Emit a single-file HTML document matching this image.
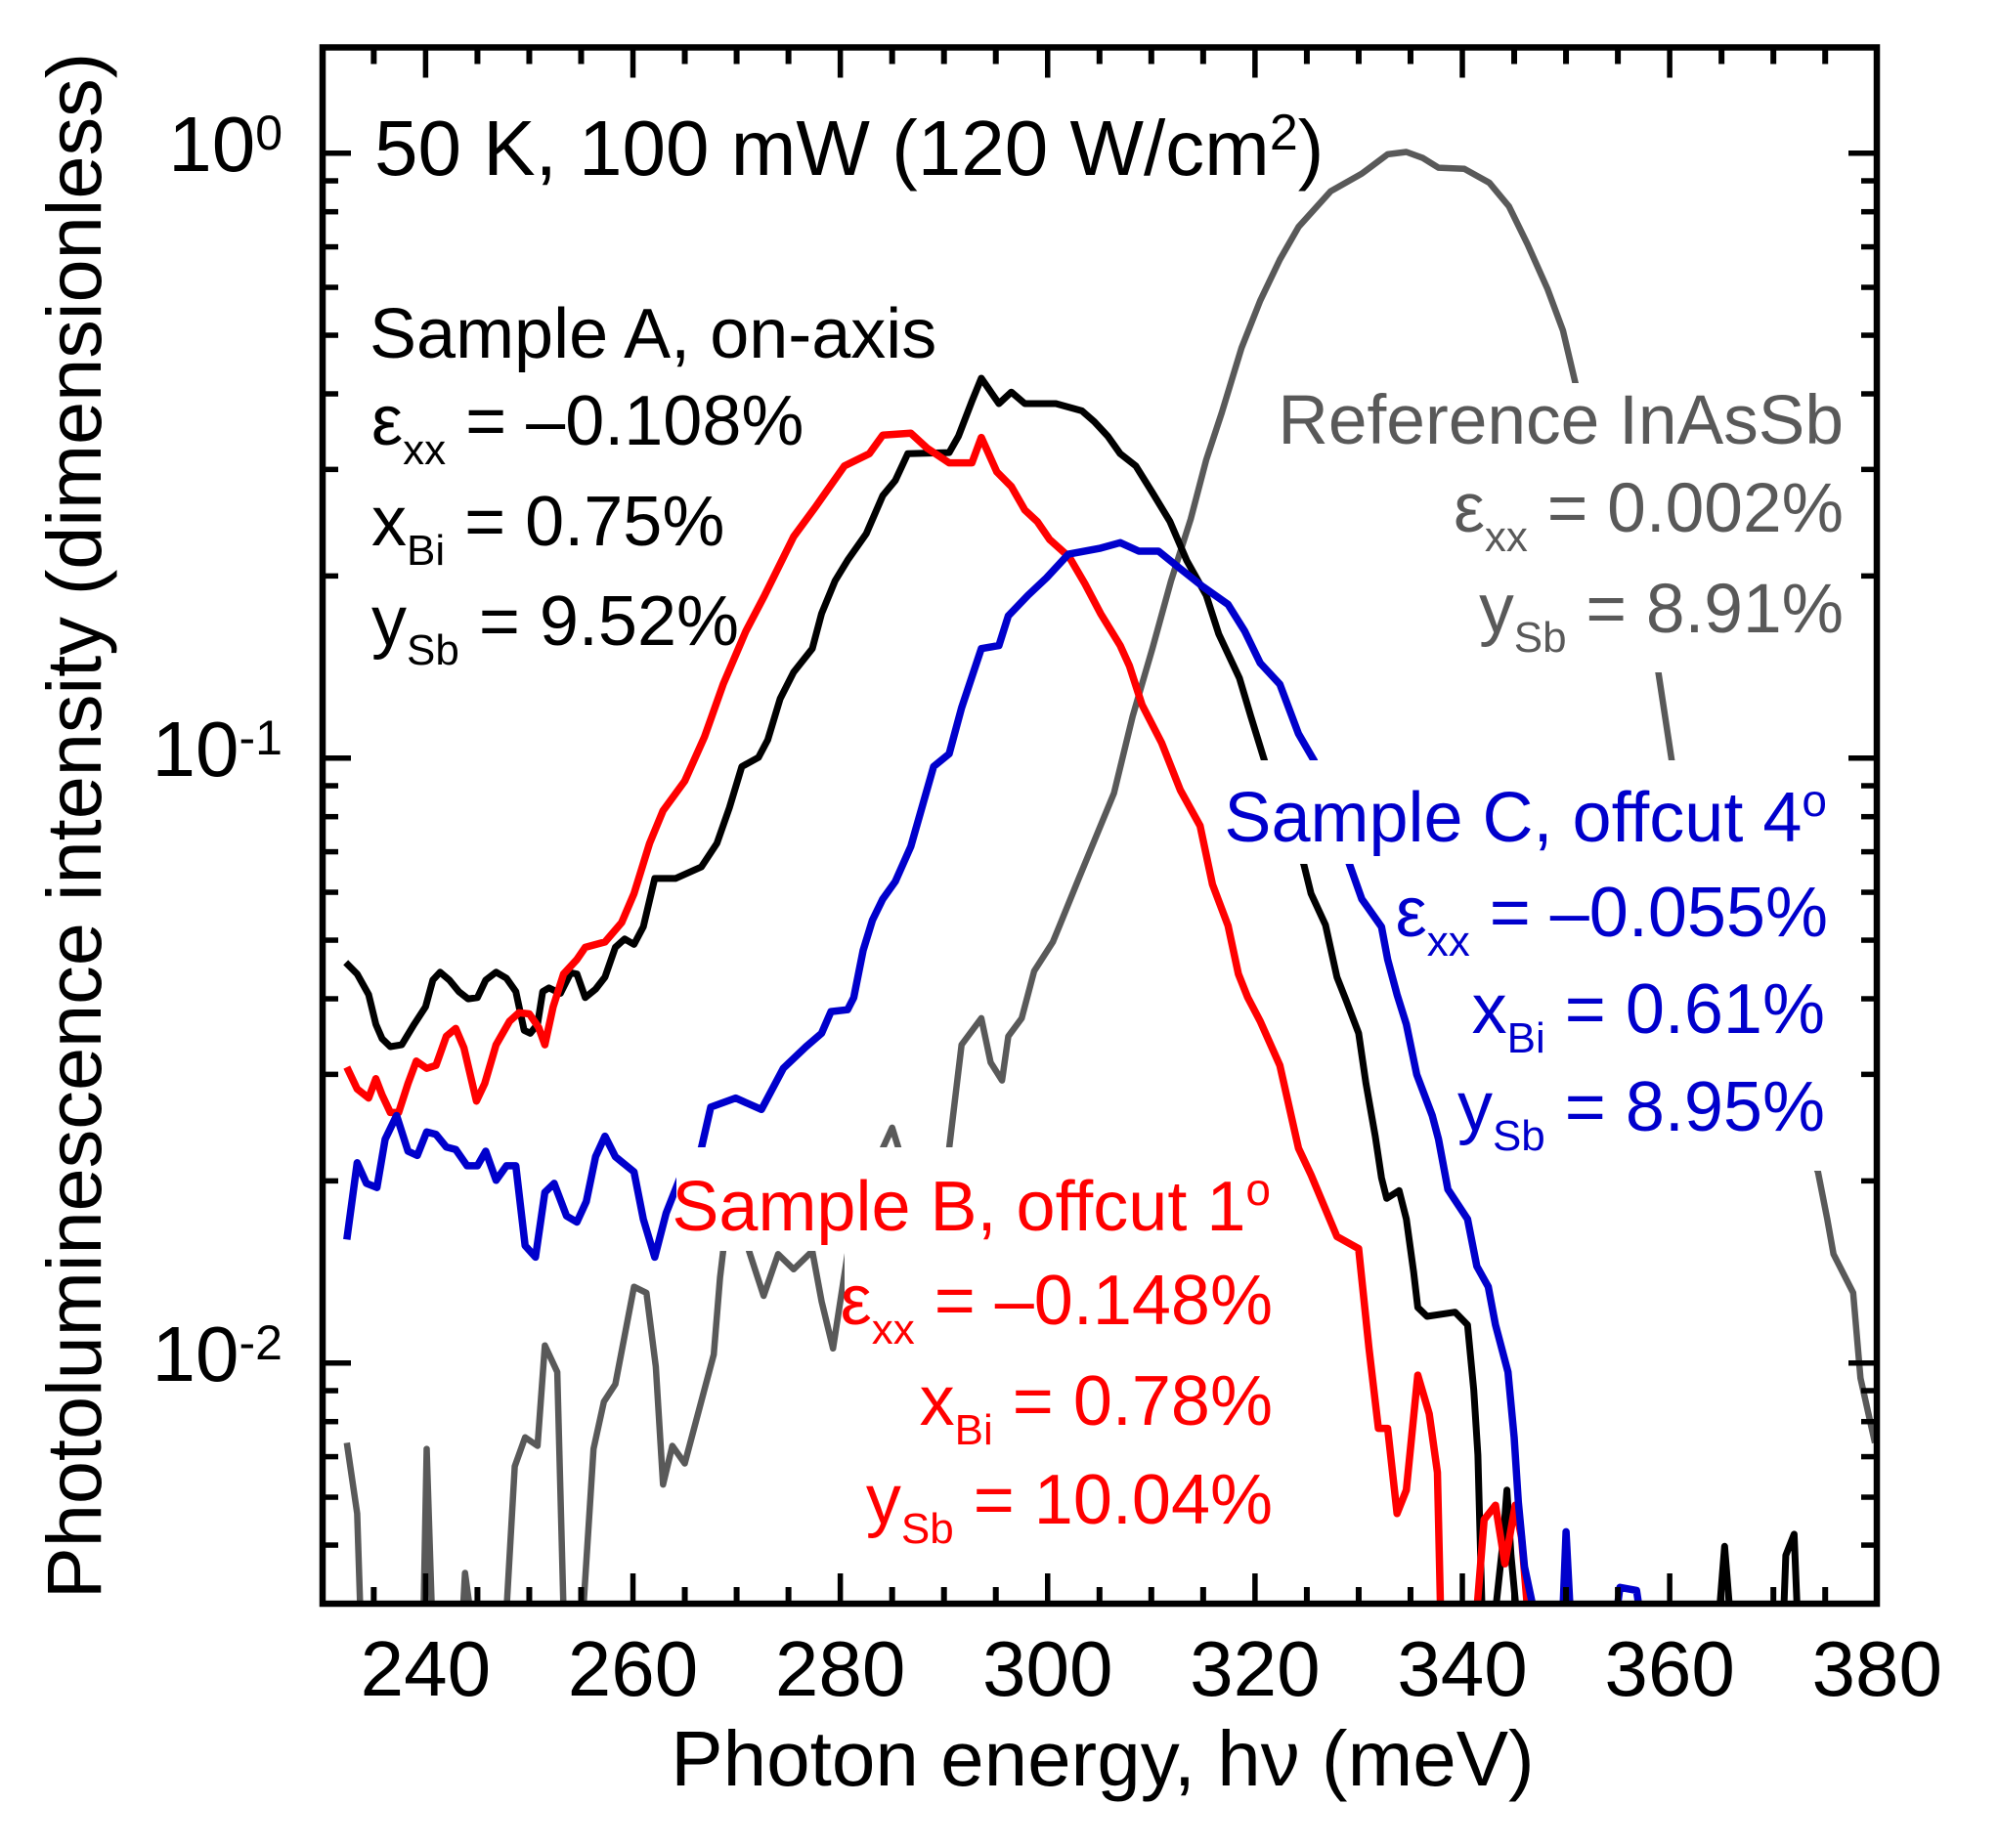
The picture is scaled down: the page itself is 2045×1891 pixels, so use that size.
<!DOCTYPE html>
<html lang="en">
<head>
<meta charset="utf-8">
<title>Photoluminescence spectra</title>
<style>
html,body{margin:0;padding:0;background:#fff;width:2045px;height:1891px;overflow:hidden}
svg{display:block}
text{font-family:"Liberation Sans",sans-serif}
.lbl{font-size:72px}
.lblg{font-size:71.3px}
.red{fill:#ff0000}.blue{fill:#0000cc}.gray{fill:#595959}.blk{fill:#000}
</style>
</head>
<body>
<svg id="chart" xmlns="http://www.w3.org/2000/svg" width="2045" height="1891" viewBox="0 0 2045 1891">
  <defs><clipPath id="plot-clip"><rect x="330" y="48" width="1590" height="1593"/></clipPath></defs>
  <rect x="0" y="0" width="2045" height="1891" fill="#fff"/>
  <g id="series" clip-path="url(#plot-clip)"></g>
  <g fill="#fff">
    <rect x="1305" y="392" width="600" height="296"/>
    <rect x="1252" y="778" width="658" height="106"/>
    <rect x="1490" y="884" width="420" height="314"/>
    <rect x="692" y="1174" width="618" height="106"/>
    <rect x="864" y="1280" width="446" height="356"/>
  </g>
  <g id="axes"></g>
  <rect x="330" y="48.5" width="1590" height="1592.5" fill="none" stroke="#000" stroke-width="6.5"/>

  <text transform="translate(103 845) rotate(-90)" text-anchor="middle" font-size="79.3">Photoluminescence intensity (dimensionless)</text>
  <text x="1128" y="1827" text-anchor="middle" font-size="80">Photon energy, hν (meV)</text>
  <text x="383" y="179" font-size="80">50 K, 100 mW (120 W/cm<tspan font-size="52" dy="-26">2</tspan><tspan dy="26">)</tspan></text>

  <g class="blk">
    <text class="lbl" x="378" y="366">Sample A, on-axis</text>
    <text class="lbl" x="380" y="455">ε<tspan font-size="44" dy="20">xx</tspan><tspan dy="-20"> = –0.108%</tspan></text>
    <text class="lbl" x="380" y="558">x<tspan font-size="44" dy="20">Bi</tspan><tspan dy="-20"> = 0.75%</tspan></text>
    <text class="lbl" x="380" y="660">y<tspan font-size="44" dy="20">Sb</tspan><tspan dy="-20"> = 9.52%</tspan></text>
  </g>
  <g class="gray" text-anchor="end">
    <text class="lblg" x="1886" y="454">Reference InAsSb</text>
    <text class="lblg" x="1886" y="544">ε<tspan font-size="44" dy="20">xx</tspan><tspan dy="-20"> = 0.002%</tspan></text>
    <text class="lblg" x="1886" y="647">y<tspan font-size="44" dy="20">Sb</tspan><tspan dy="-20"> = 8.91%</tspan></text>
  </g>
  <g class="blue" text-anchor="end">
    <text class="lbl" x="1869" y="861">Sample C, offcut 4<tspan font-size="46" dy="-26">o</tspan></text>
    <text class="lbl" x="1870" y="958">ε<tspan font-size="44" dy="20">xx</tspan><tspan dy="-20"> = –0.055%</tspan></text>
    <text class="lbl" x="1867" y="1057">x<tspan font-size="44" dy="20">Bi</tspan><tspan dy="-20"> = 0.61%</tspan></text>
    <text class="lbl" x="1867" y="1157">y<tspan font-size="44" dy="20">Sb</tspan><tspan dy="-20"> = 8.95%</tspan></text>
  </g>
  <g class="red" text-anchor="end">
    <text class="lbl" x="1300" y="1259">Sample B, offcut 1<tspan font-size="46" dy="-26">o</tspan></text>
    <text class="lbl" x="1302" y="1355">ε<tspan font-size="44" dy="20">xx</tspan><tspan dy="-20"> = –0.148%</tspan></text>
    <text class="lbl" x="1302" y="1458">x<tspan font-size="44" dy="20">Bi</tspan><tspan dy="-20"> = 0.78%</tspan></text>
    <text class="lbl" x="1302" y="1559">y<tspan font-size="44" dy="20">Sb</tspan><tspan dy="-20"> = 10.04%</tspan></text>
  </g>
</svg>
<script>
// Axis tick data
const xTickLabels = ["240","260","280","300","320","340","360","380"];
const xMinorTicks = [235,245,250,255,265,270,275,285,290,295,305,310,315,325,330,335,345,350,355,365,370,375];
const yDecades = [0,-1,-2];
const yExponentLabels = ["0","-1","-2"];
const yMinorMultipliers = [2,3,4,5,6,7,8,9];

// Sample A (black): photon energy (meV) and log10 of PL intensity
const sampleAEnergy = [232.3,233.4,234.5,235.2,235.8,236.6,237.7,238.9,240.0,240.7,241.4,242.3,243.2,244.1,245.0,245.8,246.8,247.8,248.7,249.5,250.1,250.8,251.3,251.9,253.0,254.0,254.6,255.4,256.4,257.3,258.3,259.2,260.1,261.0,262.1,264.1,266.6,268.1,269.3,270.5,272.1,273.0,274.2,275.5,277.3,278.2,279.5,280.7,282.5,284.1,285.3,286.5,290.5,291.4,292.7,293.6,295.3,296.5,297.8,300.8,303.3,304.5,305.8,307.0,308.5,310.1,311.8,313.4,315.3,316.5,318.5,319.6,321.0,323.0,324.7,325.4,326.8,327.9,328.8,330.0,330.7,331.6,332.2,332.7,333.9,334.6,335.3,335.7,336.6,339.3,340.5,341.1,341.5,341.7,341.9,343.2,343.9,344.3,344.7,345.2,364.8,365.3,365.8,371.0,371.2,372.0,372.3];
const sampleALogIntensity = [-1.338,-1.357,-1.391,-1.440,-1.464,-1.477,-1.474,-1.440,-1.411,-1.367,-1.354,-1.367,-1.386,-1.398,-1.396,-1.367,-1.354,-1.364,-1.386,-1.450,-1.455,-1.440,-1.386,-1.380,-1.389,-1.355,-1.357,-1.396,-1.382,-1.362,-1.313,-1.299,-1.308,-1.279,-1.199,-1.199,-1.180,-1.141,-1.082,-1.014,-0.999,-0.970,-0.902,-0.858,-0.819,-0.761,-0.707,-0.673,-0.629,-0.566,-0.541,-0.497,-0.495,-0.468,-0.410,-0.372,-0.414,-0.395,-0.414,-0.414,-0.426,-0.444,-0.468,-0.497,-0.517,-0.561,-0.609,-0.673,-0.731,-0.795,-0.868,-0.931,-1.009,-1.110,-1.175,-1.224,-1.276,-1.362,-1.401,-1.455,-1.538,-1.625,-1.694,-1.728,-1.715,-1.762,-1.850,-1.908,-1.923,-1.916,-1.937,-2.045,-2.152,-2.279,-2.410,-2.410,-2.298,-2.210,-2.318,-2.410,-2.410,-2.303,-2.410,-2.410,-2.318,-2.283,-2.410];

// Sample B (red)
const sampleBEnergy = [232.4,233.4,234.5,235.2,235.8,236.6,237.4,238.3,239.1,240.1,241.0,242.0,242.9,243.7,244.9,245.7,246.8,248.1,249.0,250.0,250.9,251.5,252.3,253.3,254.6,255.4,257.3,258.9,260.1,261.6,262.9,265.0,266.9,268.7,270.9,272.7,275.5,277.6,280.4,282.8,284.1,286.8,288.4,290.5,292.7,293.6,295.1,296.5,297.8,299.0,300.2,302.1,303.6,305.1,307.0,307.9,309.1,311.0,312.8,314.7,315.9,317.4,318.4,319.3,320.5,322.4,324.2,325.4,327.9,330.0,331.0,331.9,332.8,333.7,334.6,335.7,336.8,337.6,337.9,341.4,342.1,343.2,344.1,345.1,345.7,346.3];
const sampleBLogIntensity = [-1.511,-1.547,-1.562,-1.530,-1.557,-1.586,-1.586,-1.538,-1.501,-1.513,-1.508,-1.460,-1.447,-1.479,-1.567,-1.538,-1.474,-1.435,-1.421,-1.423,-1.445,-1.474,-1.411,-1.357,-1.333,-1.313,-1.304,-1.272,-1.224,-1.141,-1.087,-1.038,-0.965,-0.878,-0.790,-0.731,-0.634,-0.585,-0.517,-0.497,-0.466,-0.463,-0.488,-0.512,-0.512,-0.470,-0.527,-0.551,-0.590,-0.609,-0.639,-0.668,-0.712,-0.761,-0.814,-0.848,-0.912,-0.975,-1.053,-1.112,-1.209,-1.277,-1.357,-1.396,-1.435,-1.508,-1.645,-1.689,-1.791,-1.811,-1.976,-2.108,-2.108,-2.249,-2.210,-2.020,-2.084,-2.181,-2.410,-2.410,-2.259,-2.235,-2.332,-2.235,-2.288,-2.410];

// Sample C (blue)
const sampleCEnergy = [232.4,233.4,234.3,235.3,236.1,237.2,238.3,239.2,240.1,241.0,242.0,242.9,244.0,245.0,245.8,246.8,247.8,248.7,249.6,250.6,251.5,252.4,253.6,254.6,255.5,256.4,257.3,258.3,260.1,261.0,262.1,263.2,264.7,266.6,267.5,269.9,272.4,274.5,276.7,278.2,279.1,280.7,281.3,282.2,283.1,284.1,285.3,286.8,289.0,290.5,291.7,293.6,295.3,296.2,298.1,299.9,302.0,305.1,307.0,308.8,310.7,312.8,315.0,317.4,319.0,320.5,322.4,324.2,325.7,327.6,329.1,330.3,332.2,332.8,333.7,334.6,335.6,337.1,337.7,338.6,340.5,341.4,342.5,343.2,344.4,345.0,345.4,346.0,346.9,349.7,350.0,350.4,354.9,355.2,356.8,357.1];
const sampleCLogIntensity = [-1.796,-1.669,-1.703,-1.710,-1.630,-1.591,-1.650,-1.657,-1.618,-1.622,-1.643,-1.647,-1.674,-1.674,-1.650,-1.698,-1.674,-1.674,-1.806,-1.825,-1.718,-1.703,-1.757,-1.767,-1.733,-1.659,-1.625,-1.659,-1.684,-1.762,-1.825,-1.752,-1.687,-1.645,-1.577,-1.562,-1.581,-1.513,-1.477,-1.455,-1.419,-1.416,-1.396,-1.318,-1.268,-1.233,-1.204,-1.146,-1.014,-0.993,-0.917,-0.819,-0.814,-0.765,-0.731,-0.702,-0.663,-0.653,-0.644,-0.658,-0.658,-0.687,-0.717,-0.746,-0.790,-0.843,-0.878,-0.960,-1.004,-1.092,-1.175,-1.233,-1.279,-1.333,-1.391,-1.440,-1.523,-1.591,-1.630,-1.713,-1.762,-1.840,-1.874,-1.937,-2.015,-2.123,-2.230,-2.337,-2.410,-2.410,-2.279,-2.410,-2.410,-2.371,-2.376,-2.410];

// Reference InAsSb (gray)
const referenceEnergy = [232.4,233.4,233.7,239.8,240.1,240.6,243.6,243.8,244.3,247.8,248.6,249.6,250.8,251.5,252.7,253.3,255.2,256.2,257.2,258.3,260.1,261.3,262.2,262.9,263.8,265.0,267.8,268.4,268.7,269.9,271.2,272.6,274.0,275.5,277.3,278.2,279.3,280.7,284.1,285.0,285.7,289.0,290.5,291.7,293.6,294.5,295.6,296.2,297.5,298.7,300.5,301.2,303.0,306.4,308.2,310.1,311.9,313.8,315.3,316.8,318.7,320.5,322.4,324.2,327.3,330.3,332.8,334.6,336.2,337.7,340.2,342.6,344.5,346.3,348.2,349.7,350.9,354.9,358.9,360.2,367.0,374.3,375.2,375.8,377.7,378.4,379.8];
const referenceLogIntensity = [-2.132,-2.249,-2.410,-2.410,-2.142,-2.410,-2.410,-2.347,-2.410,-2.410,-2.171,-2.123,-2.137,-1.971,-2.015,-2.410,-2.410,-2.142,-2.064,-2.035,-1.874,-1.884,-2.006,-2.201,-2.137,-2.166,-1.986,-1.859,-1.815,-1.664,-1.815,-1.889,-1.820,-1.845,-1.815,-1.898,-1.976,-1.820,-1.645,-1.611,-1.650,-1.823,-1.645,-1.474,-1.430,-1.503,-1.533,-1.460,-1.430,-1.352,-1.304,-1.275,-1.199,-1.058,-0.931,-0.819,-0.707,-0.605,-0.507,-0.429,-0.322,-0.244,-0.176,-0.122,-0.063,-0.034,-0.002,0.002,-0.008,-0.024,-0.026,-0.049,-0.088,-0.151,-0.224,-0.293,-0.380,-0.624,-0.858,-1.004,-1.400,-1.684,-1.762,-1.820,-1.884,-2.025,-2.132];

const SVG_NS = "http://www.w3.org/2000/svg";
function xScale(energy){ return 435.4 + (energy - 240) * 10.606; }
function yScale(logIntensity){ return 156.7 - 619 * logIntensity; }

function addLine(parent, x1, y1, x2, y2, width){
  const l = document.createElementNS(SVG_NS, "line");
  l.setAttribute("x1", x1); l.setAttribute("y1", y1);
  l.setAttribute("x2", x2); l.setAttribute("y2", y2);
  l.setAttribute("stroke", "#000");
  l.setAttribute("stroke-width", width);
  
  
  parent.appendChild(l);
}

function addSeries(name, energies, logs, color, width){
  const p = document.createElementNS(SVG_NS, "polyline");
  p.setAttribute("points", energies.map((e, i) => xScale(e).toFixed(1) + "," + yScale(logs[i]).toFixed(1)).join(" "));
  p.setAttribute("fill", "none");
  p.setAttribute("stroke", color);
  p.setAttribute("stroke-width", width);
  p.setAttribute("stroke-linejoin", "round");
  
  
  document.getElementById("series").appendChild(p);
}

addSeries("reference-inassb-curve", referenceEnergy, referenceLogIntensity, "#595959", 6.5);
addSeries("sample-a-curve", sampleAEnergy, sampleALogIntensity, "#000000", 7);
addSeries("sample-b-curve", sampleBEnergy, sampleBLogIntensity, "#ff0000", 7.5);
addSeries("sample-c-curve", sampleCEnergy, sampleCLogIntensity, "#0000cc", 7.5);

const axes = document.getElementById("axes");
const xTop = 48.5, xBottom = 1641, yLeft = 330, yRight = 1920;

xTickLabels.forEach(label => {
  const px = xScale(Number(label));
  addLine(axes, px, xTop, px, xTop + 31, 5.5);
  addLine(axes, px, xBottom, px, xBottom - 31, 5.5);
  const t = document.createElementNS(SVG_NS, "text");
  t.setAttribute("x", px);
  t.setAttribute("y", 1735);
  t.setAttribute("text-anchor", "middle");
  t.setAttribute("font-size", "80");
  
  
  t.textContent = label;
  axes.appendChild(t);
});
xMinorTicks.forEach(v => {
  const px = xScale(v);
  addLine(axes, px, xTop, px, xTop + 17, 6);
  addLine(axes, px, xBottom, px, xBottom - 17, 6);
});

yDecades.forEach((d, i) => {
  const py = yScale(d);
  addLine(axes, yLeft, py, yLeft + 29, py, 5.5);
  addLine(axes, yRight, py, yRight - 29, py, 5.5);
  const t = document.createElementNS(SVG_NS, "text");
  t.setAttribute("x", 289);
  t.setAttribute("y", py + 18.5);
  t.setAttribute("text-anchor", "end");
  t.setAttribute("font-size", "80");
  
  
  t.appendChild(document.createTextNode("10"));
  const s = document.createElementNS(SVG_NS, "tspan");
  s.setAttribute("font-size", "50");
  s.setAttribute("dy", "-22");
  s.textContent = yExponentLabels[i];
  t.appendChild(s);
  axes.appendChild(t);
  if (d < 0) {
    yMinorMultipliers.forEach(m => {
      const pm = yScale(d + Math.log10(m));
      addLine(axes, yLeft, pm, yLeft + 16, pm, 5.5);
      addLine(axes, yRight, pm, yRight - 16, pm, 5.5);
    });
  }
});
[5,6,7,8,9].forEach(m => {
  const pm = yScale(-3 + Math.log10(m));
  addLine(axes, yLeft, pm, yLeft + 16, pm, 5.5);
  addLine(axes, yRight, pm, yRight - 16, pm, 5.5);
});
</script>
</body>
</html>
